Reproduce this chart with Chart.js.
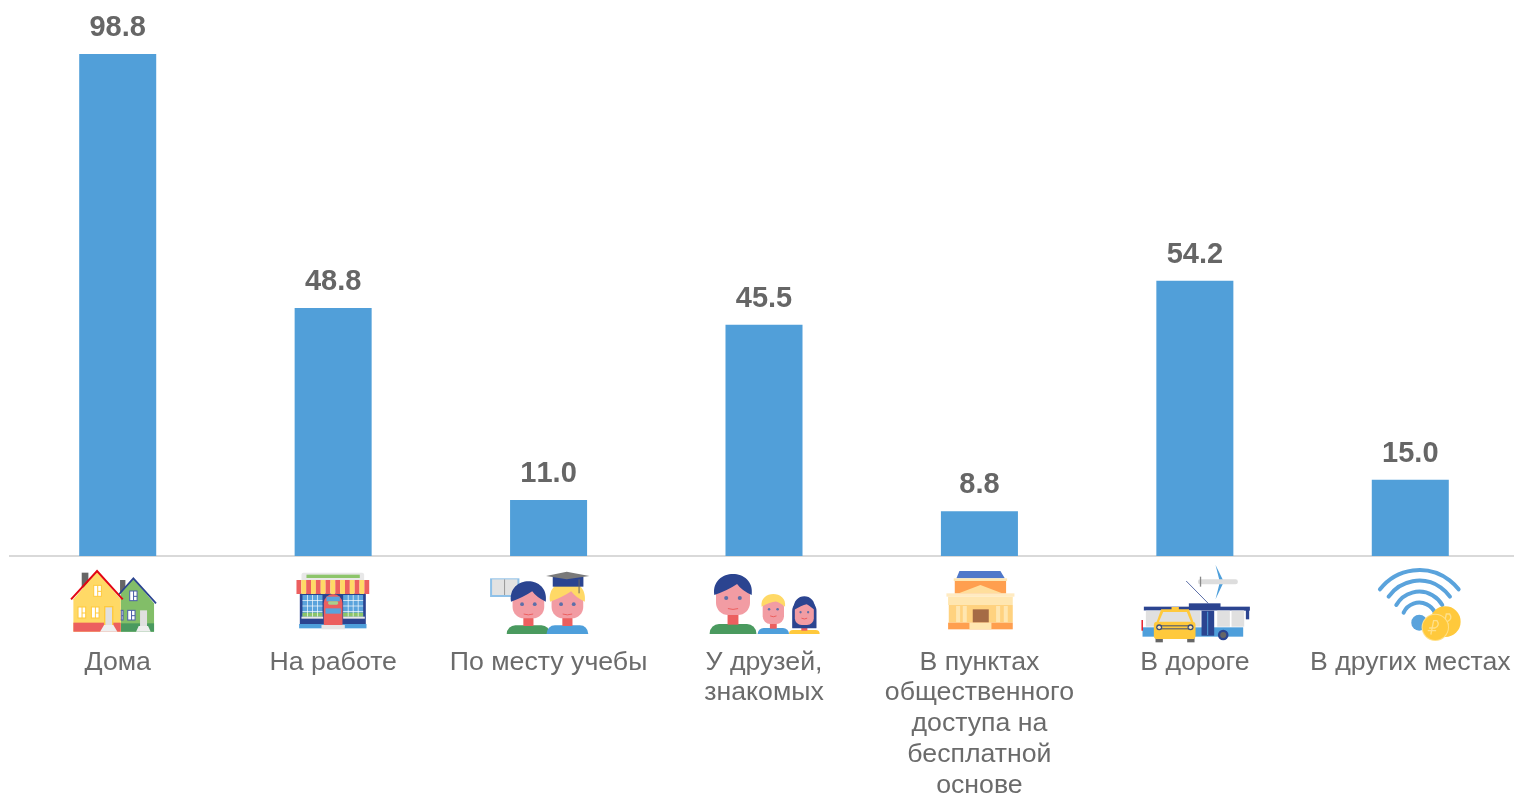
<!DOCTYPE html>
<html lang="ru">
<head>
<meta charset="utf-8">
<title>Места использования интернета</title>
<script src="https://cdn.jsdelivr.net/npm/chart.js@4/dist/chart.umd.min.js"></script>
<style>
    html, body { margin: 0; padding: 0; background: #fff; overflow: hidden; width: 1514px; height: 795px; }
    canvas { display: block; }
</style>
</head>
<body>
<canvas id="myChart" width="1528" height="795"></canvas>
<script>
const categories = [
    'Дома',
    'На работе',
    'По месту учебы',
    ['У друзей,', 'знакомых'],
    ['В пунктах', 'общественного', 'доступа на', 'бесплатной', 'основе'],
    'В дороге',
    'В других местах'
];
const values = [98.8, 48.8, 11.0, 45.5, 8.8, 54.2, 15.0];

const BLUE = '#4E9FDB', NAVY = '#2B4490', RED = '#EC5F5F', YELLOW = '#FFD966', GOLD = '#FFC93C', GREEN = '#4A9A5F', SKIN = '#F29CA3';

function rect(ctx, color, x, y, w, h) {
    ctx.fillStyle = color;
    ctx.fillRect(x, y, w, h);
}

function poly(ctx, color, pts) {
    ctx.fillStyle = color;
    ctx.beginPath();
    pts.forEach((p, i) => i ? ctx.lineTo(p[0], p[1]) : ctx.moveTo(p[0], p[1]));
    ctx.closePath();
    ctx.fill();
}

function line(ctx, color, width, pts) {
    ctx.strokeStyle = color;
    ctx.lineWidth = width;
    ctx.beginPath();
    pts.forEach((p, i) => i ? ctx.lineTo(p[0], p[1]) : ctx.moveTo(p[0], p[1]));
    ctx.stroke();
}

function round(ctx, color, x, y, w, h, r) {
    ctx.fillStyle = color;
    ctx.beginPath();
    ctx.roundRect(x, y, w, h, r);
    ctx.fill();
}

function disc(ctx, color, x, y, r) {
    ctx.fillStyle = color;
    ctx.beginPath();
    ctx.arc(x, y, r, 0, Math.PI * 2);
    ctx.fill();
}

function houseWindow(ctx, x, y, w, h, color) {
    rect(ctx, '#fff', x, y, w, h);
    ctx.strokeStyle = color;
    ctx.lineWidth = 3;
    ctx.strokeRect(x, y, w, h);
    rect(ctx, color, x + w / 2 - 1, y, 3, h);
    rect(ctx, color, x + w / 2, y + h / 2, w / 2, 3);
}

// face, hair and shoulders of one little person
function person(ctx, o) {
    round(ctx, o.shirt, o.cx - o.sw / 2, o.st, o.sw, o.bottom - o.st, [o.sw * 0.2, o.sw * 0.2, 0, 0]);
    rect(ctx, RED, o.cx - o.fw * 0.16, o.fb - 8, o.fw * 0.32, o.st - o.fb + 10);
    if (o.longHair) round(ctx, o.hair, o.cx - o.fw * 0.64, o.ft - 6, o.fw * 1.28, o.fb - o.ft + 16, [o.fw * 0.6, o.fw * 0.6, 2, 2]);
    round(ctx, SKIN, o.cx - o.fw / 2, o.ft, o.fw, o.fb - o.ft, o.fw * 0.36);
    const crown = (4 * (o.ft - 16) - o.hb) / 3;
    ctx.fillStyle = o.hair;
    ctx.beginPath();
    ctx.moveTo(o.cx - o.fw * 0.55, o.hb);
    ctx.bezierCurveTo(o.cx - o.fw * 0.66, crown, o.cx + o.fw * 0.66, crown, o.cx + o.fw * 0.55, o.hb);
    ctx.quadraticCurveTo(o.cx + o.fw * 0.25, o.hb - 14, o.cx + o.fw * 0.12, o.ft + (o.hb - o.ft) * 0.3);
    ctx.quadraticCurveTo(o.cx - o.fw * 0.15, o.hb - 14, o.cx - o.fw * 0.55, o.hb);
    ctx.fill();
    const eyeY = o.hb + (o.fb - o.hb) * 0.15;
    disc(ctx, '#5D6FA8', o.cx - o.fw * 0.2, eyeY, o.fw * 0.06);
    disc(ctx, '#5D6FA8', o.cx + o.fw * 0.2, eyeY, o.fw * 0.06);
    const my = eyeY + 28 * o.fw / 90;
    ctx.strokeStyle = RED;
    ctx.lineWidth = 3;
    ctx.beginPath();
    ctx.moveTo(o.cx - o.fw * 0.15, my);
    ctx.quadraticCurveTo(o.cx, my + 5, o.cx + o.fw * 0.15, my);
    ctx.stroke();
}

function ruble(ctx, x, y, s) {
    ctx.lineCap = 'round';
    ctx.strokeStyle = '#FFE08A';
    ctx.lineWidth = 4;
    ctx.beginPath();
    ctx.moveTo(x - s * 0.4, y + s);
    ctx.lineTo(x, y - s);
    ctx.lineTo(x + s * 0.5, y - s);
    ctx.quadraticCurveTo(x + s, y - s * 0.3, x + s * 0.2, y + s * 0.1);
    ctx.lineTo(x - s * 0.6, y + s * 0.1);
    ctx.moveTo(x - s * 0.8, y + s * 0.5);
    ctx.lineTo(x + s * 0.3, y + s * 0.5);
    ctx.stroke();
    ctx.lineCap = 'butt';
}

const icons = [
    // дома
    { center: 353, top: 540, draw(ctx) {
        rect(ctx, '#666', 245, 98, 20, 45);
        rect(ctx, '#666', 360, 120, 16, 40);
        poly(ctx, '#82BE68', [[362, 160], [400, 115], [462, 190], [462, 275], [362, 275]]);
        rect(ctx, GREEN, 362, 250, 100, 25);
        line(ctx, NAVY, 5, [[355, 165], [400, 115], [468, 190]]);
        houseWindow(ctx, 389, 153, 22, 29, '#4A5EA8');
        houseWindow(ctx, 383, 211, 22, 29, '#4A5EA8');
        houseWindow(ctx, 360, 211, 9, 29, '#4A5EA8');
        rect(ctx, '#E0E0E0', 420, 211, 21, 47);
        poly(ctx, '#EEE', [[408, 275], [416, 258], [444, 258], [452, 275]]);
        poly(ctx, YELLOW, [[220, 178], [291, 95], [362, 178], [362, 275], [220, 275]]);
        rect(ctx, RED, 220, 248, 142, 27);
        line(ctx, '#E30613', 6, [[213, 178], [291, 93], [368, 178]]);
        houseWindow(ctx, 281, 136, 23, 33, GOLD);
        houseWindow(ctx, 234, 201, 23, 33, GOLD);
        houseWindow(ctx, 274, 201, 23, 33, GOLD);
        rect(ctx, GOLD, 312, 198, 28, 58);
        rect(ctx, '#E0E0E0', 316, 202, 20, 54);
        poly(ctx, '#EEE', [[300, 275], [312, 255], [340, 255], [352, 275]]);
    } },
    // на работе
    { center: 1000, top: 540, draw(ctx) {
        round(ctx, '#E8E8E8', 905, 98, 188, 30, 6);
        rect(ctx, '#8CC56A', 920, 104, 160, 10);
        rect(ctx, NAVY, 900, 160, 198, 95);
        [908, 1030].forEach(x => {
            rect(ctx, '#5AA3DC', x, 165, 60, 65);
            rect(ctx, '#8CC56A', x, 218, 60, 12);
            for (let i = 1; i < 4; i++) rect(ctx, '#fff', x + i * 15 - 1, 165, 2, 65);
            for (let i = 1; i < 4; i++) rect(ctx, '#fff', x, 165 + i * 16, 60, 2);
        });
        rect(ctx, '#E8E8E8', 905, 230, 65, 6);
        rect(ctx, '#E8E8E8', 1030, 230, 65, 6);
        rect(ctx, BLUE, 898, 252, 202, 13);
        rect(ctx, '#E6E6E6', 965, 255, 70, 13);
        round(ctx, RED, 972, 162, 56, 93, [28, 28, 0, 0]);
        rect(ctx, '#5AA3DC', 977, 205, 46, 16);
        rect(ctx, '#5AA3DC', 980, 170, 40, 14);
        round(ctx, '#A8D08D', 985, 184, 30, 10, 4);
        for (let i = 0; i < 15; i++) {
            rect(ctx, i % 2 ? YELLOW : RED, 890 + i * 14.55, 120, 14.55, 42);
        }
    } },
    // по месту учебы
    { center: 205.5, top: 560, draw(ctx) {
        rect(ctx, '#8FC1E8', 30, 55, 88, 56);
        rect(ctx, '#E2E2E2', 36, 58, 76, 47);
        rect(ctx, '#999', 72, 58, 3, 47);
        person(ctx, { cx: 145, ft: 80, fb: 175, fw: 95, hair: NAVY, hb: 125, sw: 130, st: 196, bottom: 222, shirt: GREEN });
        person(ctx, { cx: 262, ft: 80, fb: 175, fw: 95, hair: YELLOW, hb: 125, sw: 125, st: 196, bottom: 222, shirt: BLUE });
        rect(ctx, NAVY, 218, 50, 92, 30);
        poly(ctx, '#7A7A7A', [[198, 48], [260, 35], [328, 48], [260, 58]]);
        line(ctx, '#666', 3, [[297, 58], [297, 100]]);
    } },
    // у друзей, знакомых
    { center: 192, top: 560, draw(ctx) {
        person(ctx, { cx: 99, ft: 58, fb: 165, fw: 102, hair: NAVY, hb: 105, sw: 140, st: 192, bottom: 222, shirt: GREEN });
        person(ctx, { cx: 220, ft: 118, fb: 192, fw: 64, hair: YELLOW, hb: 140, sw: 94, st: 204, bottom: 222, shirt: BLUE });
        person(ctx, { cx: 313, ft: 125, fb: 195, fw: 57, hair: NAVY, hb: 150, sw: 92, st: 210, bottom: 222, shirt: GOLD, longHair: true });
    } },
    // в пунктах общественного доступа
    { center: 132, top: 560, draw(ctx) {
        poly(ctx, '#4F77C9', [[63, 55], [72, 33], [195, 33], [208, 55]]);
        rect(ctx, '#FFE6B0', 55, 55, 160, 8);
        rect(ctx, '#FF9F4F', 58, 63, 154, 38);
        poly(ctx, '#FFDE9C', [[70, 100], [135, 75], [200, 100]]);
        rect(ctx, '#FFEBC2', 33, 100, 204, 10);
        rect(ctx, '#FFE6B0', 38, 110, 194, 25);
        rect(ctx, '#FFD27F', 40, 135, 192, 53);
        [62, 82, 182, 205].forEach(x => rect(ctx, '#FFE6B0', x, 138, 12, 50));
        rect(ctx, '#A56B45', 112, 148, 48, 40);
        rect(ctx, '#FF9F4F', 38, 188, 194, 20);
        rect(ctx, '#FFE6B0', 102, 188, 66, 20);
    } },
    // в дороге
    { center: 223, top: 550, draw(ctx) {
        line(ctx, '#5D6FA8', 3, [[197, 93], [263, 160]]);
        poly(ctx, BLUE, [[285, 45], [310, 95], [285, 148], [298, 96]]);
        round(ctx, '#DDD', 232, 88, 120, 15, 7);
        line(ctx, '#888', 4, [[240, 80], [240, 110]]);
        rect(ctx, NAVY, 205, 160, 95, 12);
        rect(ctx, NAVY, 70, 170, 318, 12);
        rect(ctx, '#fff', 70, 182, 300, 50);
        rect(ctx, '#E0E0E0', 76, 182, 164, 48);
        rect(ctx, '#E0E0E0', 290, 182, 38, 48);
        rect(ctx, '#E0E0E0', 333, 182, 38, 48);
        rect(ctx, NAVY, 376, 172, 10, 36);
        rect(ctx, BLUE, 66, 232, 302, 28);
        rect(ctx, '#E30613', 63, 210, 4, 32);
        rect(ctx, NAVY, 243, 182, 38, 75);
        rect(ctx, BLUE, 260, 185, 3, 70);
        disc(ctx, NAVY, 308, 255, 16);
        disc(ctx, '#666', 308, 255, 9);
        rect(ctx, '#666', 105, 262, 22, 15);
        rect(ctx, '#666', 200, 262, 22, 15);
        rect(ctx, GOLD, 153, 171, 22, 9);
        poly(ctx, GOLD, [[122, 178], [205, 178], [222, 225], [105, 225]]);
        poly(ctx, '#E0E0E0', [[128, 186], [199, 186], [212, 218], [114, 218]]);
        round(ctx, GOLD, 100, 215, 125, 52, 10);
        rect(ctx, '#3B4E7A', 118, 226, 92, 3);
        rect(ctx, '#3B4E7A', 118, 235, 92, 3);
        disc(ctx, '#3B4E7A', 116, 232, 9);
        disc(ctx, '#FFE6B0', 116, 232, 5);
        disc(ctx, '#3B4E7A', 210, 232, 9);
        disc(ctx, '#FFE6B0', 210, 232, 5);
    } },
    // в других местах
    { center: 870, top: 550, draw(ctx) {
        ctx.lineCap = 'round';
        ctx.strokeStyle = '#5AA3DC';
        ctx.lineWidth = 12;
        [[209, 149, 118], [204, 112, 92], [204.5, 79.5, 69], [210, 52, 47]].forEach(a => {
            const half = Math.asin(a[2] / a[1]);
            ctx.beginPath();
            ctx.arc(897, a[0], a[1], -Math.PI / 2 - half, -Math.PI / 2 + half);
            ctx.stroke();
        });
        ctx.lineCap = 'butt';
        disc(ctx, '#5AA3DC', 897, 218, 24);
        disc(ctx, GOLD, 975, 215, 46);
        ruble(ctx, 978, 212, 20);
        disc(ctx, '#FFE08A', 945, 232, 41);
        disc(ctx, GOLD, 945, 232, 38);
        ruble(ctx, 940, 232, 20);
    } }
];

// keeps each pictogram under its category, just below the axis
const iconsPlugin = {
    id: 'icons',
    afterDraw(chart) {
        const ctx = chart.ctx;
        const base = chart.scales.y.getPixelForValue(0);
        icons.forEach((icon, i) => {
            ctx.save();
            ctx.filter = 'blur(0.5px)';
            ctx.translate(chart.scales.x.getPixelForValue(i), base + icon.top - 556);
            ctx.scale(1 / 3, 1 / 3);
            ctx.translate(-icon.center, 0);
            icon.draw(ctx);
            ctx.restore();
        });
    }
};

// value above each bar
const valueLabels = {
    id: 'valueLabels',
    afterDatasetsDraw(chart) {
        const ctx = chart.ctx;
        ctx.save();
        ctx.font = 'bold 29px "Liberation Sans", Arial, sans-serif';
        ctx.fontKerning = 'none';
        ctx.fillStyle = '#666666';
        ctx.textAlign = 'center';
        ctx.textBaseline = 'alphabetic';
        chart.getDatasetMeta(0).data.forEach((bar, i) => {
            ctx.fillText(values[i].toFixed(1), bar.x, bar.y - 18);
        });
        ctx.restore();
    }
};

new Chart(document.getElementById('myChart').getContext('2d'), {
    type: 'bar',
    data: {
        labels: categories,
        datasets: [{
            data: values,
            backgroundColor: '#519FD9',
            barPercentage: 1,
            categoryPercentage: 0.3575
        }]
    },
    options: {
        responsive: false,
        animation: false,
        layout: { padding: { left: 10, right: 10, top: 48, bottom: 0 } },
        plugins: { legend: { display: false }, tooltip: { enabled: false } },
        scales: {
            x: {
                grid: { display: false },
                border: { color: '#D9D9D9', width: 2 },
                afterFit(scale) {
                    scale.height = 239;
                    scale.paddingLeft = 0;
                    scale.paddingRight = 0;
                },
                ticks: {
                    autoSkip: false,
                    maxRotation: 0,
                    padding: 83,
                    color: '#6B6B6B',
                    font: { family: '"Liberation Sans", Arial, sans-serif', size: 26.7, lineHeight: 1.15 }
                }
            },
            y: {
                display: false,
                min: 0,
                max: 100
            }
        }
    },
    plugins: [valueLabels, iconsPlugin]
});
</script>
</body>
</html>
